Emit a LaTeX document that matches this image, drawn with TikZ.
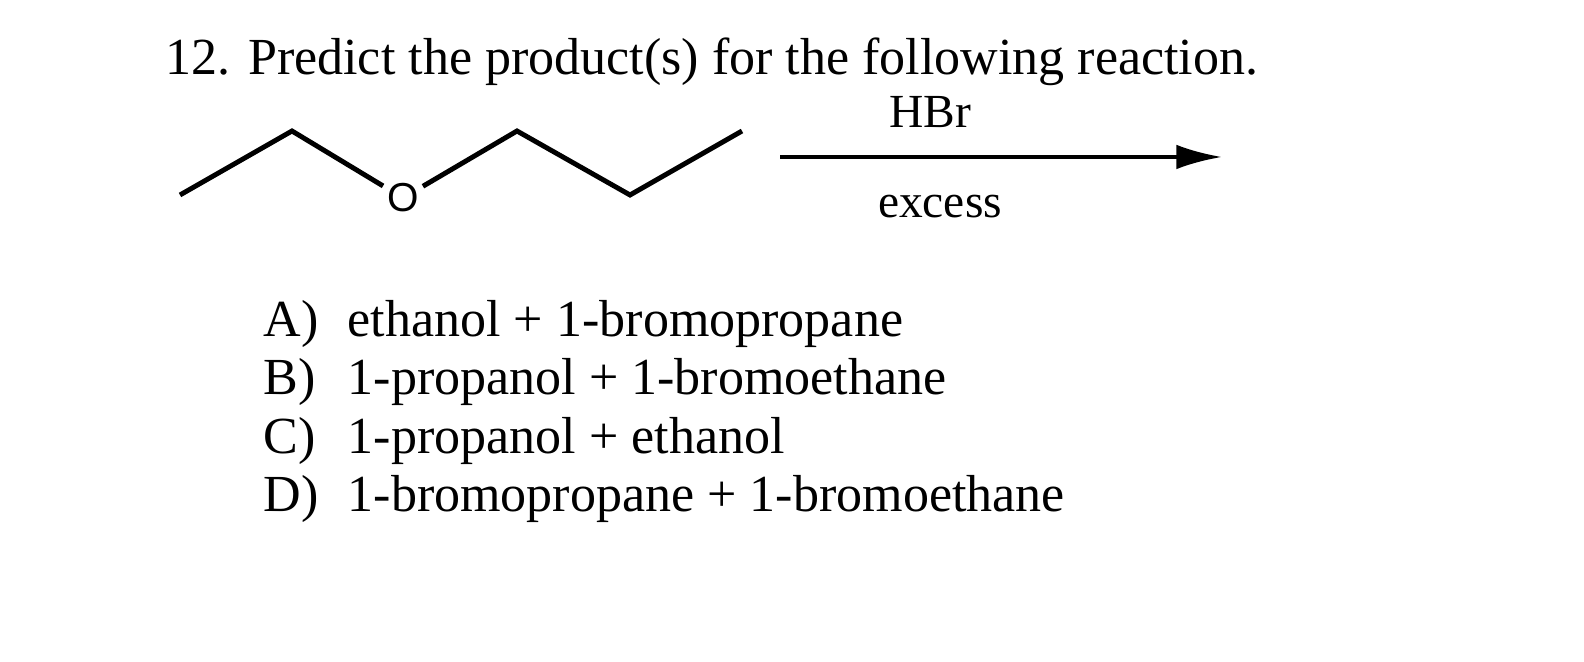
\documentclass[tikz,border=0pt]{standalone}
\usepackage{fontspec}
\setmainfont{Liberation Serif}
\newfontfamily\atomfont{Liberation Sans}
\usetikzlibrary{arrows.meta}
\begin{document}
\begin{tikzpicture}[x=0.01cm,y=-0.01cm,
  txt/.style={anchor=base west,inner sep=0pt,font=\fontsize{14.8pt}{17pt}\selectfont},
  lbl/.style={anchor=base,inner sep=0pt,font=\fontsize{13.5pt}{16pt}\selectfont},
  bond/.style={line width=1.4pt,line join=miter,line cap=butt}]
\useasboundingbox (0,0) rectangle (1584,662);
\node[txt] (title) at (165,75) {12. Predict the product(s) for the following reaction.};
\coordinate (c1) at (180,195);
\coordinate (c2) at (292,131);
\node[inner sep=1pt,font=\atomfont\fontsize{11.5pt}{12pt}\selectfont] (o) at (403,198) {O};
\coordinate (c3) at (517,131);
\coordinate (c4) at (630,195);
\coordinate (c5) at (742,131);
\draw[bond] (c1) -- (c2) -- (o);
\draw[bond] (o) -- (c3) -- (c4) -- (c5);
\coordinate (a1) at (780,157);
\coordinate (a2) at (1222,157);
\draw[line width=1.1pt,-{Latex[length=13pt,width=7pt]}] (a1) -- (a2);
\node[lbl] (hbr) at (930,128) {HBr};
\node[lbl] (ex) at (940,218) {excess};
\node[txt] (la) at (263,337) {A)};
\node[txt] (ta) at (347,337) {ethanol + 1-bromopropane};
\node[txt] (lb) at (263,395) {B)};
\node[txt] (tb) at (347,395) {1-propanol + 1-bromoethane};
\node[txt] (lc) at (263,454) {C)};
\node[txt] (tc) at (347,454) {1-propanol + ethanol};
\node[txt] (ld) at (263,512) {D)};
\node[txt] (td) at (347,512) {1-bromopropane + 1-bromoethane};
\end{tikzpicture}
\end{document}
